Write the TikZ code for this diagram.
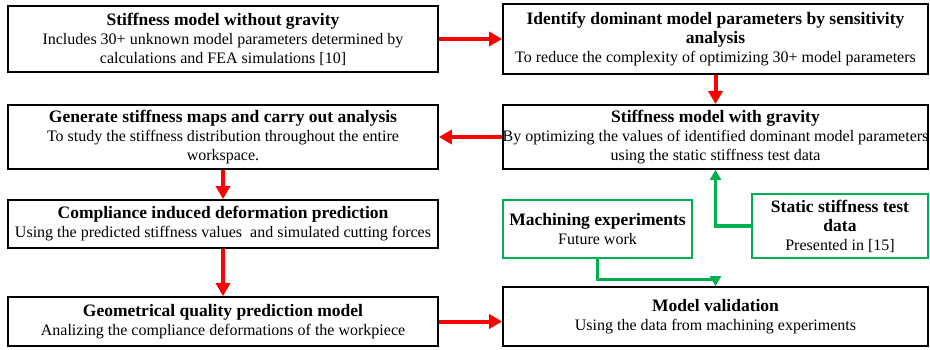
\documentclass[tikz,border=0pt]{standalone}
\usepackage{fontspec}
\setmainfont{Liberation Serif}
\usetikzlibrary{arrows.meta,calc}
\definecolor{flowgreen}{RGB}{0,176,80}
\newcommand\boxtitle[1]{{\fontsize{17.5}{19}\selectfont\bfseries #1}}
\begin{document}
\begin{tikzpicture}[x=1pt,y=-1pt,
  every node/.style={inner sep=0pt,align=center,font=\fontsize{16}{19}\selectfont},
  stagebox/.style={draw=black,line width=1.8pt},
  inputbox/.style={draw=flowgreen,line width=1.5pt},
  redflow/.style={draw=red,line width=4pt,-{Triangle[width=14pt,length=13pt]}},
  greenflow/.style={draw=flowgreen,line width=3.2pt,-{Triangle[width=11pt,length=10pt]}}]
\useasboundingbox (0,0) rectangle (930,349);

% main chain of modelling stages
\node[stagebox,minimum width=430pt,minimum height=66pt] (nograv) at (223,39)
  {\boxtitle{Stiffness model without gravity}\\
   Includes 30+ unknown model parameters determined by\\
   calculations and FEA simulations [10]};
\node[stagebox,minimum width=425pt,minimum height=70pt] (sens) at (715.5,39)
  {\boxtitle{Identify dominant model parameters by sensitivity}\\
   \boxtitle{analysis}\\
   To reduce the complexity of optimizing 30+ model parameters};
\node[stagebox,minimum width=425pt,minimum height=64pt] (grav) at (715.5,137)
  {\boxtitle{Stiffness model with gravity}\\
   By optimizing the values of identified dominant model parameters\\
   using the static stiffness test data};
\node[stagebox,minimum width=430pt,minimum height=64pt] (maps) at (223,137)
  {\boxtitle{Generate stiffness maps and carry out analysis}\\
   To study the stiffness distribution throughout the entire\\
   workspace.};
\node[stagebox,minimum width=430pt,minimum height=48pt] (defo) at (223,224)
  {\boxtitle{Compliance induced deformation prediction}\\
   Using the predicted stiffness values \ and simulated cutting forces};
\node[stagebox,minimum width=430pt,minimum height=49pt] (quality) at (223,321.5)
  {\boxtitle{Geometrical quality prediction model}\\
   Analizing the compliance deformations of the workpiece};
\node[stagebox,minimum width=425pt,minimum height=59pt] (valid) at (715.5,316.5)
  {\boxtitle{Model validation}\\
   Using the data from machining experiments};

% experimental inputs
\node[inputbox,minimum width=189pt,minimum height=58pt] (mach) at (597.5,229)
  {\boxtitle{Machining experiments}\\
   Future work};
\node[inputbox,minimum width=176pt,minimum height=64pt] (static) at (840,226)
  {\boxtitle{Static stiffness test}\\
   \boxtitle{data}\\
   Presented in [15]};

% red flow between stages
\draw[redflow] (nograv.east) -- (sens.west);
\draw[redflow] (sens.south) -- (grav.north);
\draw[redflow] (grav.west) -- (maps.east);
\draw[redflow] (maps.south) -- (defo.north);
\draw[redflow] (defo.south) -- (quality.north);
\draw[redflow] (quality.east) -- (quality.east -| valid.west);

% green inputs from experiments
\draw[greenflow] (static.west) -| (grav.south);
\draw[greenflow] (mach.south) -- ++(0,21) -| (valid.north);
\end{tikzpicture}
\end{document}
